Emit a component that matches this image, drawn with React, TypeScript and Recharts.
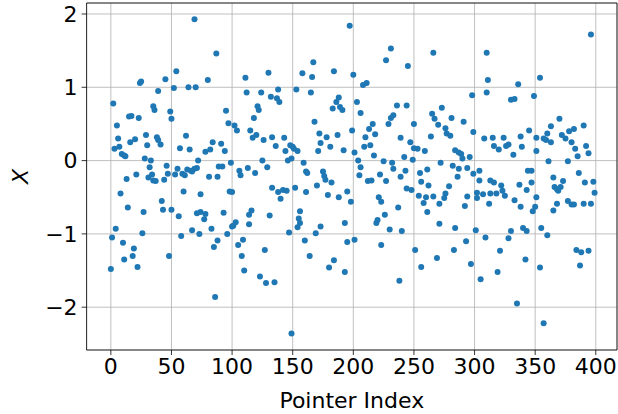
import { ScatterChart, Scatter, XAxis, YAxis, CartesianGrid, ReferenceArea } from 'recharts'

// pointer index of each dot
const pointerIndex = [
  0, 1, 2, 3, 4, 5, 6, 7, 8, 9, 10, 11, 11, 12, 13, 14, 15, 16, 17, 18, 19, 20, 21, 22, 23, 24, 25, 26, 27, 28, 29, 30, 31, 32, 33, 34, 35, 35, 36,
  37, 38, 39, 39, 41, 42, 43, 44, 45, 46, 47, 48, 49, 50, 50, 52, 53, 54, 55, 56, 57, 58, 59, 60, 61, 62, 63, 64, 65, 66, 67, 67, 69, 69, 70, 71, 71, 72, 73, 74, 74,
  77, 78, 78, 80, 81, 82, 83, 84, 85, 86, 87, 88, 88, 89, 91, 92, 93, 94, 95, 96, 97, 98, 99, 100, 100, 101, 102, 103, 104, 105, 106, 107, 108, 109, 110, 111, 112, 113, 114,
  114, 115, 116, 117, 118, 119, 120, 121, 122, 123, 124, 125, 126, 127, 128, 129, 130, 131, 132, 133, 133, 135, 136, 137, 138, 138, 139, 140, 142, 143, 144, 145, 146, 147, 148, 149, 149, 150, 151, 152, 153, 154,
  154, 155, 156, 156, 158, 159, 160, 161, 161, 162, 164, 165, 166, 167, 168, 169, 170, 171, 172, 173, 173, 175, 176, 177, 178, 179, 180, 181, 182, 183, 184, 184, 186, 187, 188, 188, 189, 191, 192, 193, 193,
  195, 195, 197, 198, 199, 200, 201, 201, 203, 204, 205, 206, 206, 208, 209, 210, 211, 212, 213, 214, 215, 216, 217, 218, 219, 220, 221, 222, 223, 223, 225, 226, 227, 227, 229, 230, 231, 231, 232, 233, 233,
  236, 237, 238, 239, 239, 240, 242, 243, 244, 244, 245, 247, 248, 249, 250, 250, 251, 253, 254, 255, 256, 256, 258, 259, 260, 261, 261, 262, 264, 265, 266, 266, 267, 269, 270, 271, 271, 272, 273,
  275, 276, 276, 277, 279, 280, 281, 282, 283, 284, 284, 286, 287, 287, 289, 290, 291, 292, 293, 294, 294, 296, 297, 298, 299, 299, 301, 302, 302, 304, 304, 305, 307, 308, 309, 310, 310, 311, 312,
  313, 313, 315, 316, 316, 318, 319, 320, 321, 322, 323, 324, 325, 326, 328, 328, 330, 330, 332, 333, 333, 335, 336, 337, 338, 338, 339, 340, 342, 343, 343, 344, 345, 347, 347, 348, 349, 350, 351, 351,
  351, 354, 354, 355, 357, 357, 359, 360, 360, 361, 363, 363, 365, 365, 366, 368, 368, 369, 370, 371, 372, 373, 375, 377, 377, 378, 380, 380, 382, 382, 383, 384, 385, 386, 387, 388, 390, 390, 391, 392,
  394, 394, 396, 396, 398, 399,
]

// X value of each dot, same order
const xValue = [
  -1.48, -1.05, 0.78, 0.16, -0.93, 0.48, 0.3, 0.19, -0.45, 0.09, -1.12, 0.07, -1.35, 0.06, -0.25, -0.64, 0.6, 0.25, 0.61, -1.3, -1.2, 0.29, -0.19, -1.45, 0.58, 1.06, 1.08, -0.99, -0.7, 0.03, 0.35, 0.21, -0.23, -0.09, 0.0, -0.19, 0.74, -0.27, 0.69,
  -0.28, 0.32, 0.95, 0.28, 0.22, -0.55, -0.67, -0.26, 1.11, -0.07, -0.18, -1.3, 0.67, 0.57, -0.67, 0.99, -0.19, 1.22, -0.11, -0.76, 0.17, -1.03, -0.18, -0.42, -0.2, 0.34, -0.12, 1.0, 0.15, -0.14, -0.95, -0.15, 1.93, -0.11, 1.0, -0.1, -0.72, 0.0, -1.0, -0.46, -0.7,
  -0.8, -0.73, 0.12, 1.1, -0.22, 0.15, -0.93, 0.25, -1.18, -1.86, 1.46, -1.09, -0.22, -0.08, 0.23, -0.08, -0.71, 0.13, 0.68, -1.0, 0.51, -0.42, -0.03, -0.43, -0.9, -0.89, 0.48, -0.84, 0.41, -1.15, -0.14, -0.2, -1.3, -1.08, -1.5, 1.13, 0.93, -0.1, -0.87,
  -0.74, 0.41, -0.68, 0.31, 0.58, -0.17, 0.35, 0.74, 0.69, -1.58, 0.93, 0.0, 0.28, -1.22, -1.67, -0.09, 1.2, -0.75, 0.87, 0.32, -0.37, -1.66, 0.2, 0.85, 0.97, -0.43, 0.8, -0.52, -0.4, 0.31, 0.13, -0.41, 0.0, -0.98, 0.21, 0.03, -2.36, 0.19, 0.16, -0.37, 0.97, -0.91,
  0.13, -0.79, -0.69, -0.85, 1.19, -0.03, -1.09, -0.15, -0.43, -0.17, -1.3, 0.93, 1.14, 1.34, 0.53, -0.99, -0.34, 0.13, 0.37, 0.24, -0.9, -0.15, -0.21, -0.26, 0.32, -0.47, -1.46, 0.19, -0.3, 0.71, 1.22, -1.36, 0.8, 0.35, 0.86, -0.5, 0.73, 0.69, 0.14, -0.85, -1.52,
  -0.42, -1.11, 1.84, -0.56, 0.41, 1.17, 0.11, -1.08, 0.8, 0.0, -0.2, 0.65, -0.09, 1.03, 0.19, 0.32, 1.06, -0.28, 0.43, 0.21, -0.27, 0.5, 0.07, 0.36, -0.85, -0.81, -0.5, -0.19, -0.56, -1.15, -0.01, -0.74, 1.37, -0.28, 0.5, -0.94, 1.53, 0.58, -0.03, 0.62, -0.11,
  0.75, -0.64, -1.64, 0.31, -0.22, -0.96, 0.05, -0.14, 0.75, -0.38, 1.29, 0.25, -0.4, 0.01, 0.5, 0.17, -1.22, 0.16, -0.48, -0.17, -0.29, -1.45, -0.58, 0.13, -0.5, -0.12, -0.7, -0.34, 0.33, 0.64, 1.47, -0.49, 0.57, -1.33, 0.49, -0.59, -0.86, -0.03, 0.72,
  -0.51, 0.44, -0.45, 0.37, -0.35, 0.34, 0.58, -0.07, -1.22, 0.14, -0.92, -0.22, 0.11, -0.11, 0.09, 0.03, 0.53, -0.62, -1.1, -0.1, -0.49, 0.05, -1.41, 0.89, 0.39, -0.18, -0.95, -0.44, -0.51, -0.14, -0.27, -1.62, -0.46, 0.3, -1.05, 1.47, 0.93, 1.1, -0.59,
  -0.27, -0.45, 0.31, 0.2, -0.3, -0.45, -1.52, 0.15, -1.23, -0.34, -0.41, 0.31, -0.48, 0.2, 0.22, -1.06, 0.83, -0.96, 0.08, 0.84, -0.54, -1.95, 1.04, -0.33, 0.33, -0.63, 0.19, -0.92, -1.35, -0.4, -0.96, -0.14, 0.41, -0.14, -0.3, -0.69, 0.88, -0.63, 0.31, 0.13,
  -0.5, 1.13, -1.46, -0.92, 0.3, -2.22, 0.28, 0.37, -1.02, -0.01, 0.47, 0.25, -0.23, -0.68, -0.36, -0.39, -0.59, -0.41, 0.57, -0.36, 0.35, -0.28, 0.3, -0.01, -0.55, 0.4, 0.25, -0.6, 0.43, -0.6, 0.16, -1.22, 0.06, -0.17, -1.43, -1.25, 0.48, -0.59, -0.3, 0.2,
  0.1, -1.23, 1.72, -0.59, -0.29, -0.44,
]

const xTicks = [0, 50, 100, 150, 200, 250, 300, 350, 400]
const yTicks = [-2, -1, 0, 1, 2]

const data = pointerIndex.map((p, i) => ({ p, v: xValue[i] }))

const FONT = 'DejaVu Sans'
const FS = 22
const fmt = (v: number) => (v < 0 ? `\u2212${-v}` : `${v}`)

const Dot = (props: any) => <circle cx={props.cx} cy={props.cy} r={3} fill="#1f77b4" />

const YTitle = (props: any) => {
  const vb = props.viewBox
  const cx = vb.x + 20
  const cy = vb.y + vb.height / 2
  return (
    <text x={cx} y={cy} transform={`rotate(-90 ${cx} ${cy})`} textAnchor="middle"
      dominantBaseline="central" fontSize={FS} fontStyle="italic" fontFamily={FONT} fill="#000">
      X
    </text>
  )
}

export default function App() {
  return (
    <div style={{ position: 'absolute', left: 0, top: 0, fontFamily: FONT, background: '#fff' }}>
      <ScatterChart width={618} height={414} margin={{ top: 3, right: 1, bottom: 0, left: 0 }}>
        <CartesianGrid stroke="#b0b0b0" strokeWidth={0.8} />
        <XAxis
          type="number"
          dataKey="p"
          domain={[-20, 417.5]}
          allowDataOverflow
          ticks={xTicks}
          height={64}
          axisLine={false}
          tickLine={{ stroke: '#000', strokeWidth: 0.8 }}
          tickSize={5}
          tickMargin={3}
          tick={{ fill: '#000', fontSize: FS, fontFamily: FONT }}
          label={{ value: 'Pointer Index', position: 'insideBottom', offset: 6, fill: '#000', fontSize: FS, fontFamily: FONT }}
        />
        <YAxis
          type="number"
          dataKey="v"
          domain={[-2.584, 2.15]}
          allowDataOverflow
          ticks={yTicks}
          width={86.6}
          axisLine={false}
          tickLine={{ stroke: '#000', strokeWidth: 0.8 }}
          tickSize={5}
          tickMargin={4}
          tickFormatter={fmt}
          tick={{ fill: '#000', fontSize: FS, fontFamily: FONT }}
          label={<YTitle />}
        />
        <ReferenceArea x1={-20} x2={417.5} y1={-2.584} y2={2.15} fill="none" stroke="#000" strokeWidth={0.8} />
        <Scatter data={data} shape={Dot} isAnimationActive={false} />
      </ScatterChart>
    </div>
  )
}
